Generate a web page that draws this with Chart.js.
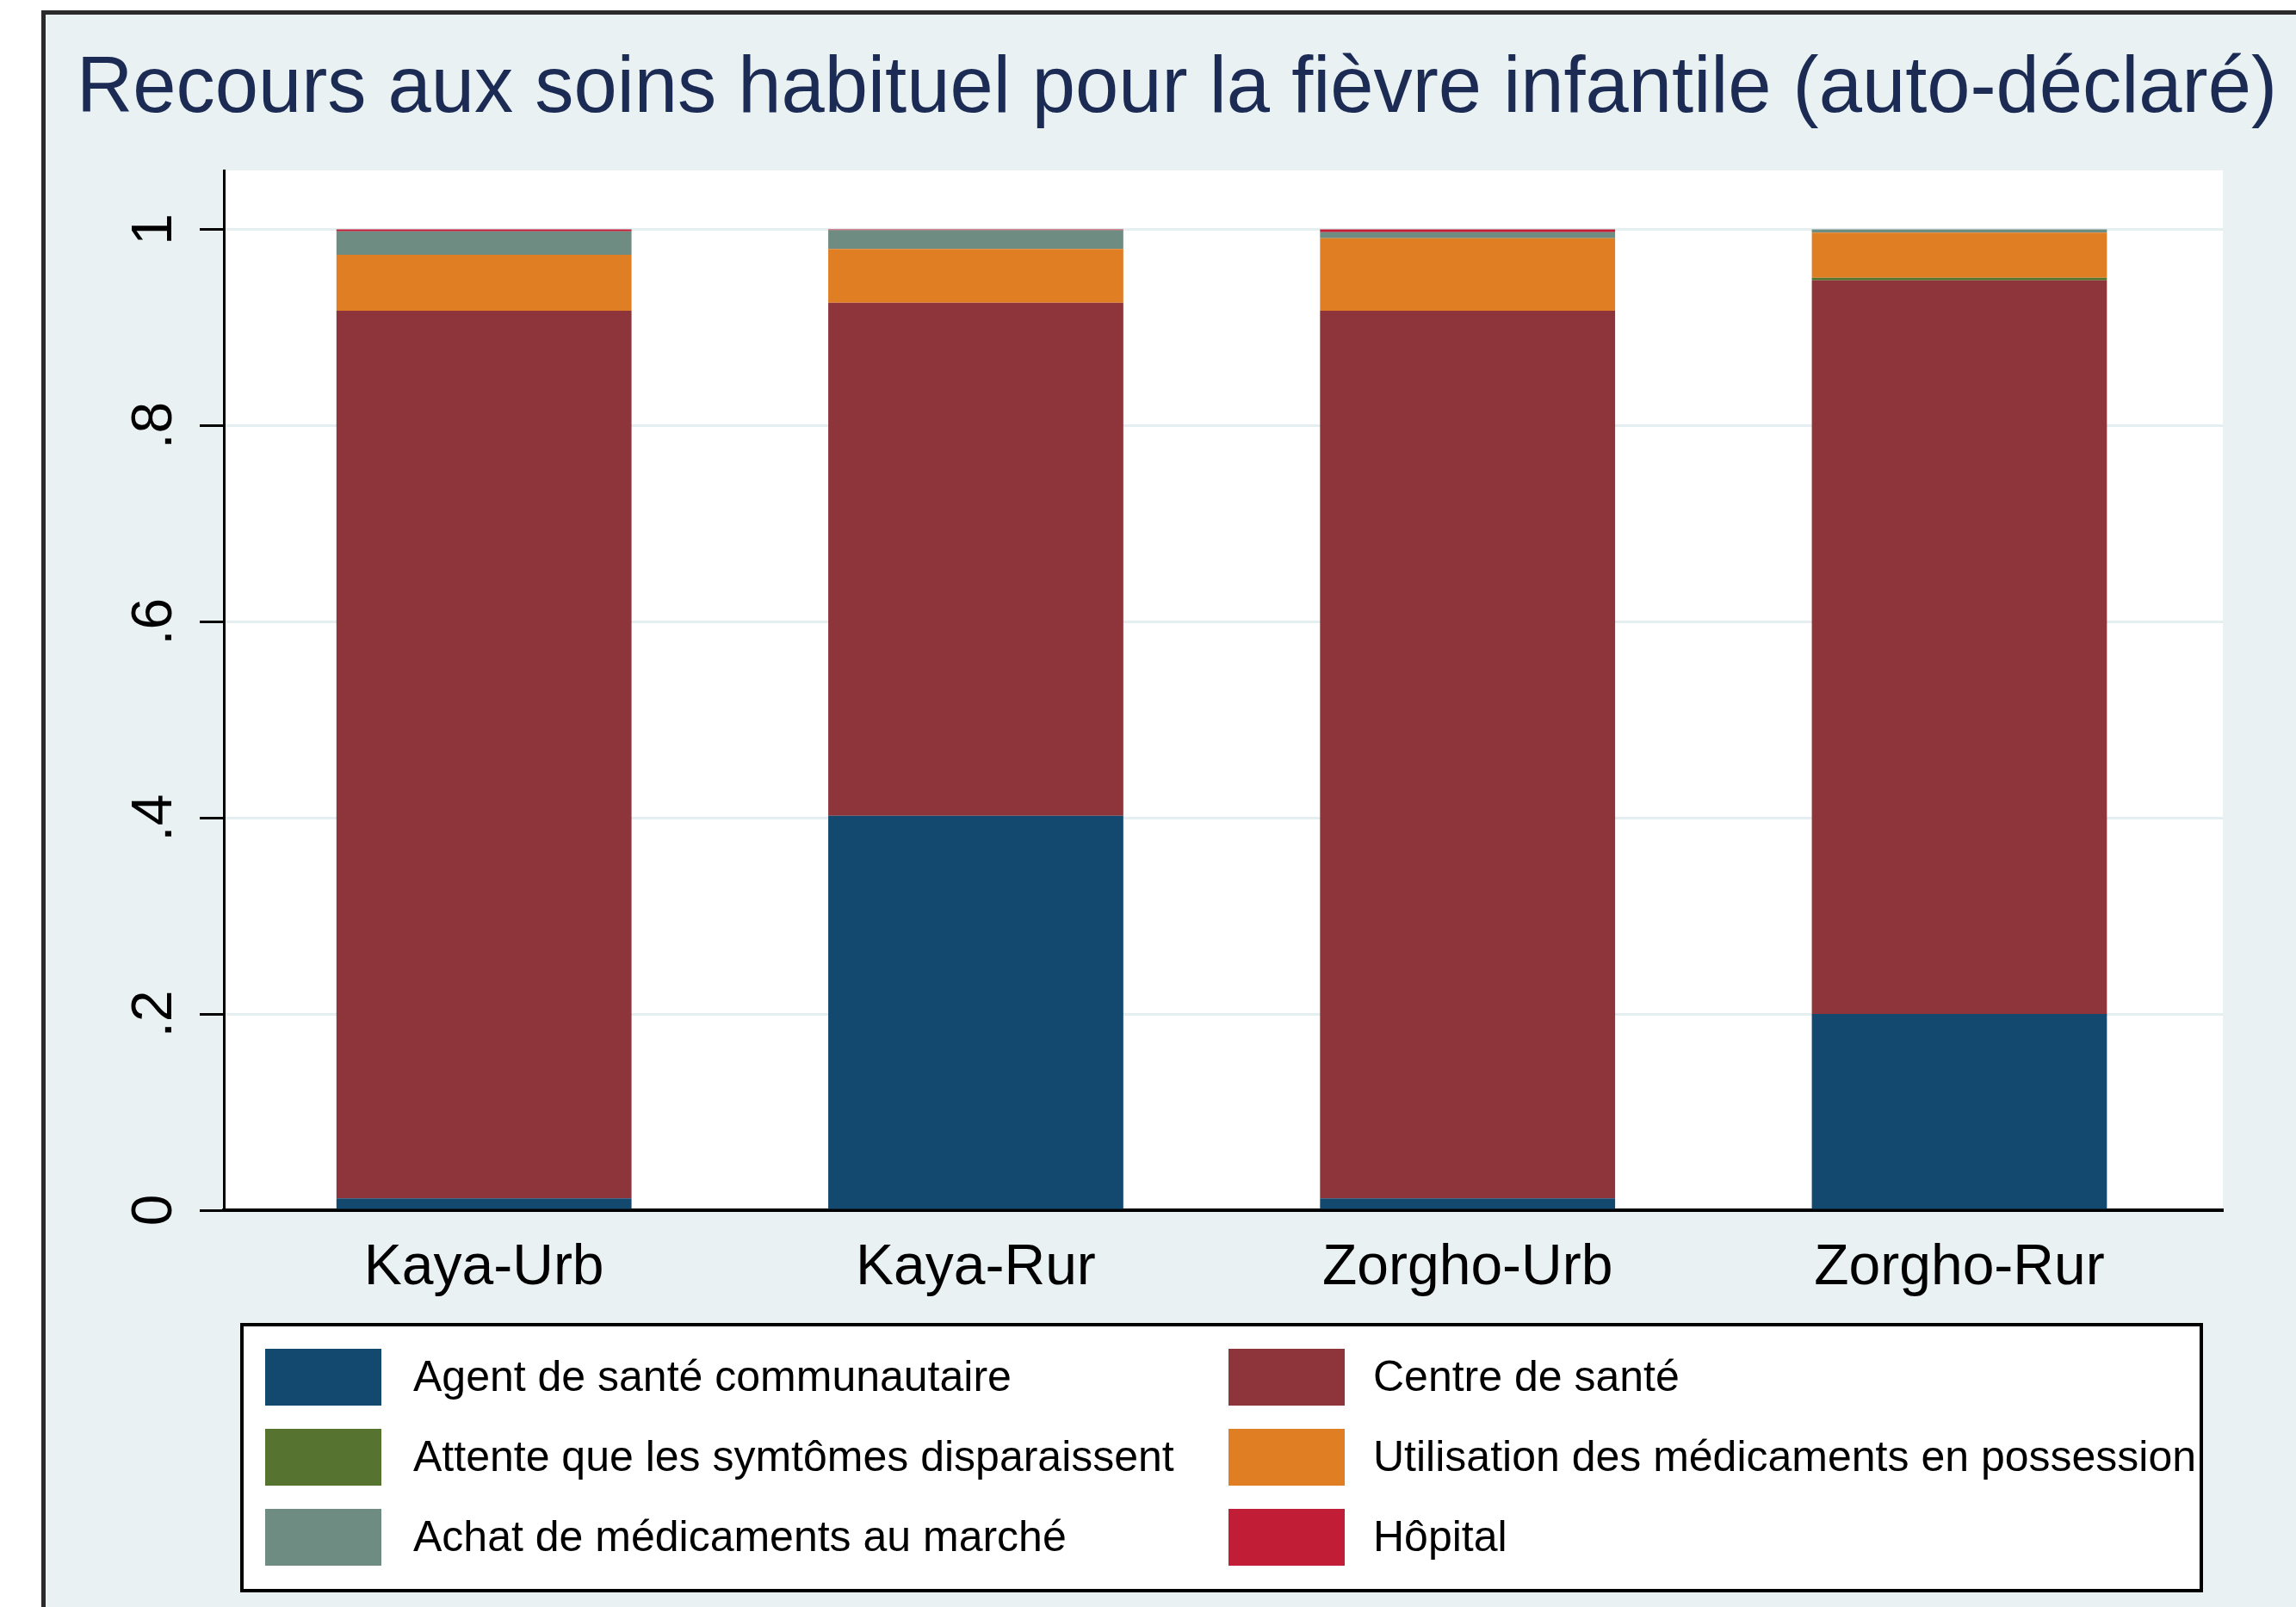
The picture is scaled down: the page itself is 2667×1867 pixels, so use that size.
<!DOCTYPE html>
<html>
<head>
<meta charset="utf-8">
<title>Recours aux soins habituel pour la fièvre infantile</title>
<script src="https://cdn.jsdelivr.net/npm/chart.js@4.4.1/dist/chart.umd.min.js"></script>
<style>
  html, body { margin: 0; padding: 0; background: #ffffff; overflow: hidden; }
  canvas { display: block; }
</style>
</head>
<body>
<canvas id="myChart" width="2667" height="1867"></canvas>
<script>
// categories (x axis)
const categories = ['Kaya-Urb', 'Kaya-Rur', 'Zorgho-Urb', 'Zorgho-Rur'];

// share of each care option (bottom to top)
const agentSante   = [0.012, 0.402, 0.012, 0.200];
const centreSante  = [0.905, 0.523, 0.905, 0.748];
const attente      = [0.000, 0.000, 0.000, 0.0025];
const utilisation  = [0.057, 0.055, 0.074, 0.046];
const achatMarche  = [0.024, 0.019, 0.006, 0.0035];
const hopital      = [0.002, 0.001, 0.003, 0.000];

const seriesNames = [
  'Agent de santé communautaire',
  'Centre de santé',
  'Attente que les symtômes disparaissent',
  'Utilisation des médicaments en possession',
  'Achat de médicaments au marché',
  'Hôpital'
];
const seriesValues = [agentSante, centreSante, attente, utilisation, achatMarche, hopital];
const seriesColors = ['#13486f', '#8e343b', '#56742f', '#e07e23', '#6e8c82', '#c11d36'];

// y axis ticks
const yTicks = [0, 0.2, 0.4, 0.6, 0.8, 1];
const yTickLabels = ['0', '.2', '.4', '.6', '.8', '1'];

const titleText = 'Recours aux soins habituel pour la fièvre infantile (auto-déclaré)';

const FONT = "'Liberation Sans', Arial, Helvetica, sans-serif";
Chart.defaults.font.family = FONT;
Chart.defaults.color = '#000';

// background, frame, white plot region and title (Stata-like look)
const backgroundPlugin = {
  id: 'stataBackground',
  beforeDraw(chart) {
    const { ctx, width, height, chartArea } = chart;
    ctx.save();
    ctx.fillStyle = '#ffffff';
    ctx.fillRect(0, 0, width, height);
    ctx.fillStyle = '#e9f1f3';
    ctx.fillRect(53, 17, width - 53, height - 17);
    ctx.fillStyle = '#2a2a2a';
    ctx.fillRect(48, 12, 5, height - 12);
    ctx.fillRect(48, 12, width - 48, 5);
    ctx.fillStyle = '#ffffff';
    ctx.fillRect(chartArea.left, chartArea.top, chartArea.right - chartArea.left, chartArea.bottom - chartArea.top);
    // title runs wider than the plot, so it is drawn here
    ctx.fillStyle = '#1c2b54';
    ctx.font = '93px ' + FONT;
    ctx.textAlign = 'left';
    ctx.textBaseline = 'alphabetic';
    ctx.fillText(titleText, 89, 130, 2556);
    ctx.restore();
  }
};

// two-column legend in a framed box below the axis
const boxLegendPlugin = {
  id: 'boxLegend',
  afterDraw(chart) {
    const { ctx } = chart;
    const box = { left: 281, top: 1539, right: 2557, bottom: 1848 };
    const colSwatchX = [308, 1427];
    const colTextX = [480, 1595];
    const rowCenterY = [1600, 1693, 1786];
    const swW = 135, swH = 66;
    ctx.save();
    ctx.fillStyle = '#ffffff';
    ctx.fillRect(box.left, box.top, box.right - box.left, box.bottom - box.top);
    ctx.lineWidth = 4;
    ctx.strokeStyle = '#000';
    ctx.strokeRect(box.left, box.top, box.right - box.left, box.bottom - box.top);
    ctx.font = '50px ' + FONT;
    ctx.textBaseline = 'middle';
    ctx.textAlign = 'left';
    chart.data.datasets.forEach((ds, i) => {
      const col = i % 2, row = Math.floor(i / 2);
      const cy = rowCenterY[row];
      ctx.fillStyle = ds.backgroundColor;
      ctx.fillRect(colSwatchX[col], cy - swH / 2, swW, swH);
      ctx.fillStyle = '#000';
      ctx.fillText(ds.label, colTextX[col], cy + 2);
    });
    ctx.restore();
  }
};

const ctx = document.getElementById('myChart').getContext('2d');
const myChart = new Chart(ctx, {
  type: 'bar',
  data: {
    labels: categories.map((c, i) => i),
    datasets: seriesNames.map((name, i) => ({
      label: name,
      data: seriesValues[i],
      backgroundColor: seriesColors[i],
      borderWidth: 0,
      categoryPercentage: 1,
      barPercentage: 0.6
    }))
  },
  options: {
    responsive: false,
    animation: false,
    layout: { padding: { left: 89, right: 85, top: 198, bottom: 339 } },
    plugins: {
      legend: { display: false },
      tooltip: { enabled: false },
      title: { display: false }
    },
    scales: {
      x: {
        type: 'linear',
        stacked: true,
        offset: false,
        min: -0.529,
        max: 3.5357,
        grid: { display: false, drawTicks: false, offset: false },
        border: { display: true, color: '#000', width: 4 },
        afterBuildTicks: (scale) => { scale.ticks = categories.map((c, i) => ({ value: i })); },
        afterFit: (scale) => { scale.height = 122; },
        ticks: {
          padding: 28,
          maxRotation: 0,
          color: '#000',
          font: { size: 66 },
          callback: (value) => categories[value]
        }
      },
      y: {
        stacked: true,
        min: 0,
        max: 1.06,
        afterBuildTicks: (scale) => { scale.ticks = yTicks.map(v => ({ value: v })); },
        afterFit: (scale) => { scale.width = 171; },
        grid: {
          color: '#e5eef0',
          lineWidth: 3,
          drawTicks: true,
          tickLength: 28,
          tickColor: '#000',
          tickWidth: 3
        },
        border: { display: true, color: '#000', width: 3 },
        ticks: {
          minRotation: 90,
          maxRotation: 90,
          crossAlign: 'center',
          padding: 24,
          color: '#000',
          font: { size: 66 },
          callback: (value) => {
            const k = yTicks.findIndex(t => Math.abs(t - value) < 1e-9);
            return k >= 0 ? yTickLabels[k] : '';
          }
        }
      }
    }
  },
  plugins: [backgroundPlugin, boxLegendPlugin]
});
</script>
</body>
</html>
